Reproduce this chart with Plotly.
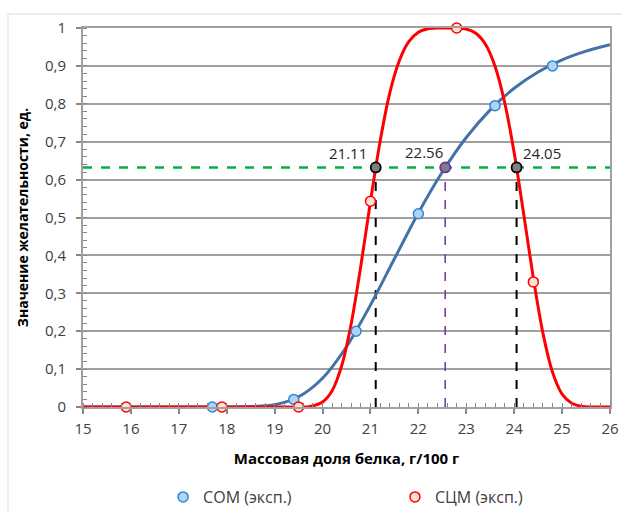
import plotly.graph_objects as go

# ---- data ----
# smoothed model curves
blue_curve_x = [15.0, 18.0, 18.5, 19.0, 19.5, 20.0, 20.5, 21.0, 21.5, 22.0, 22.5,
                23.0, 23.5, 24.0, 24.5, 25.0, 25.5, 26.0]
blue_curve_y = [0.0, 0.0, 0.001, 0.006, 0.027, 0.076, 0.159, 0.269, 0.391, 0.512, 0.620,
                0.711, 0.784, 0.841, 0.884, 0.916, 0.939, 0.956]

red_curve_x = [15.0, 19.0, 19.6, 19.8, 20.0, 20.2, 20.4, 20.6, 20.8, 21.0, 21.2, 21.4,
               21.6, 21.8, 22.0, 22.2, 22.4, 22.6, 22.8, 23.0, 23.2, 23.4, 23.6, 23.8,
               24.0, 24.2, 24.4, 24.6, 24.8, 25.0, 25.2, 25.4, 25.6, 26.0]
red_curve_y = [0.0, 0.0, 0.0, 0.003, 0.013, 0.043, 0.109, 0.221, 0.373, 0.542, 0.700, 0.827,
               0.913, 0.964, 0.989, 0.998, 1.0, 1.0, 1.0, 0.997, 0.986, 0.957, 0.899, 0.804,
               0.671, 0.508, 0.340, 0.195, 0.092, 0.034, 0.010, 0.002, 0.0, 0.0]

# experimental points
com_x = [17.7, 19.4, 20.7, 22.0, 23.6, 24.8]
com_y = [0.0, 0.02, 0.2, 0.51, 0.795, 0.9]
scm_x = [15.9, 17.9, 19.5, 21.0, 22.8, 24.4]
scm_y = [0.0, 0.0, 0.0, 0.543, 1.0, 0.33]

# optimum level and crossing points
level_d = 0.632
cross_x = [21.11, 22.56, 24.05]
cross_labels = ["21.11", "22.56", "24.05"]
x_range = [15, 26]

series_names = ["СОМ (эксп.)", "СЦМ (эксп.)"]
x_title = "Массовая доля белка, г/100 г"
y_title = "Значение желательности, ед."

FONT = "Open Sans"
fig = go.Figure()

# green optimum level
fig.add_trace(go.Scatter(x=x_range, y=[level_d, level_d], mode="lines",
                         line=dict(color="#00b050", width=2.5, dash="dash"),
                         showlegend=False, hoverinfo="skip", cliponaxis=False))
# vertical drop lines
for i, cx in enumerate(cross_x):
    col = "#7030a0" if i == 1 else "#000000"
    w = 1.5 if i == 1 else 2
    fig.add_trace(go.Scatter(x=[cx, cx], y=[0, level_d], mode="lines",
                             line=dict(color=col, width=w, dash="dash"),
                             showlegend=False, hoverinfo="skip"))

# model curves
fig.add_trace(go.Scatter(x=blue_curve_x, y=blue_curve_y, mode="lines",
                         line=dict(color="#4472a8", width=3, shape="spline", smoothing=0.8),
                         showlegend=False, cliponaxis=False))
fig.add_trace(go.Scatter(x=red_curve_x, y=red_curve_y, mode="lines",
                         line=dict(color="#ff0000", width=3, shape="spline", smoothing=0.8),
                         showlegend=False, cliponaxis=False))

# experimental points
fig.add_trace(go.Scatter(x=com_x, y=com_y, mode="markers", name=series_names[0],
                         marker=dict(size=10, color="#b4d3f0",
                                     line=dict(color="#2e86d6", width=1.5)),
                         cliponaxis=False, legend="legend"))
fig.add_trace(go.Scatter(x=scm_x, y=scm_y, mode="markers", name=series_names[1],
                         marker=dict(size=10, color="#fde2d6",
                                     line=dict(color="#ff0000", width=1.5)),
                         cliponaxis=False, legend="legend2"))

# crossing markers
fig.add_trace(go.Scatter(x=cross_x, y=[level_d] * len(cross_x), mode="markers",
                         marker=dict(size=10, color="#7f7f7f",
                                     line=dict(color=["#000000", "#7030a0", "#000000"], width=1.8)),
                         showlegend=False, cliponaxis=False))

# labels of crossings
label_pos = [(20.53, 0.670), (22.12, 0.673), (24.58, 0.670)]
for (lx, ly), t in zip(label_pos, cross_labels):
    fig.add_annotation(x=lx, y=ly, text=t, showarrow=False,
                       font=dict(family=FONT, size=15, color="#262626"))

axis_common = dict(showline=True, linecolor="#a0a0a0", linewidth=2, mirror=True,
                   gridcolor="#a0a0a0", gridwidth=1.5, zeroline=False, automargin=False,
                   ticks="outside", ticklen=5, tickwidth=1.5, tickcolor="#868686",
                   tickfont=dict(family=FONT, size=15, color="#404040"))

fig.update_xaxes(range=x_range, dtick=1, tick0=15, showgrid=False, ticklabelstandoff=2,
                 minor=dict(ticks="inside", dtick=0.2, ticklen=4, tickcolor="#868686",
                            tickwidth=1, showgrid=False),
                 title=dict(text="<b>" + x_title + "</b>",
                            font=dict(family=FONT, size=15, color="#000000"), standoff=16),
                 **axis_common)
fig.update_yaxes(range=[0, 1], dtick=0.1, tick0=0, showgrid=True, ticklabelstandoff=7,
                 minor=dict(ticks="inside", dtick=0.02, ticklen=4, tickcolor="#868686",
                            tickwidth=1, showgrid=False),
                 title=dict(text="<b>" + y_title + "</b>",
                            font=dict(family=FONT, size=14, color="#000000"), standoff=13),
                 **axis_common)

# outer chart-area border
fig.add_shape(type="rect", xref="paper", yref="paper", x0=-0.1423, y0=-0.6, x1=1.2, y1=1.0369,
              line=dict(color="#d9d9d9", width=1), fillcolor="rgba(0,0,0,0)", layer="below")

legend_style = dict(orientation="h", xanchor="left", yanchor="middle", y=-0.2375,
                    font=dict(family=FONT, size=16, color="#404040"),
                    bgcolor="rgba(0,0,0,0)")

fig.update_layout(
    width=622, height=512,
    margin=dict(l=83, r=12, t=28, b=105, autoexpand=False),
    paper_bgcolor="white", plot_bgcolor="white",
    separators=", ",
    font=dict(family=FONT, color="#404040"),
    showlegend=True,
    legend=dict(x=0.152, **legend_style),
    legend2=dict(x=0.592, **legend_style),
)

fig.write_html("out.html", config={"displayModeBar": False},
               post_script="document.body.style.margin='0px';")
